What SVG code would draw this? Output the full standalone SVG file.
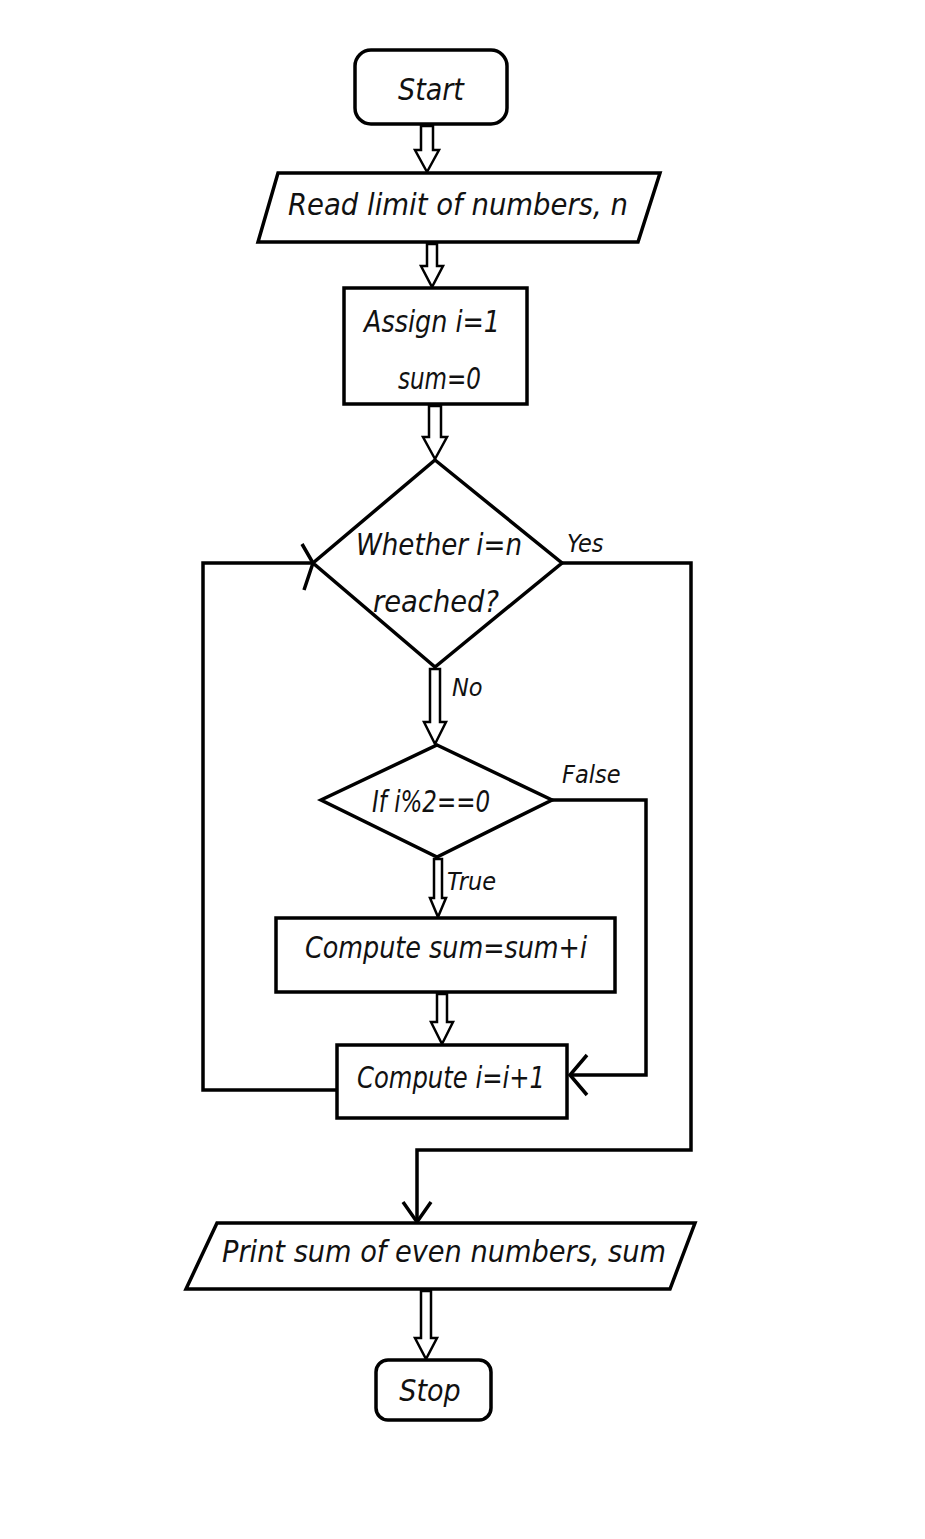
<svg xmlns="http://www.w3.org/2000/svg" width="925" height="1539" viewBox="0 0 925 1539">
<style>
.s{fill:#fff;stroke:#000;stroke-width:3.5}
.c{fill:none;stroke:#000;stroke-width:3.5;stroke-linejoin:miter}
.h{fill:#fff;stroke:#000;stroke-width:2.5;stroke-linejoin:miter}
.t{font-family:"DejaVu Sans","Liberation Sans",sans-serif;font-stretch:condensed;font-style:italic;font-size:30px;fill:#111}
.l{font-family:"DejaVu Sans","Liberation Sans",sans-serif;font-stretch:condensed;font-style:italic;font-size:25px;fill:#111}
</style>
<rect width="925" height="1539" fill="#fff"/>
<g id="connectors">
<path class="h" d="M421,126 V150 H415 L427,172 L439,150 H433 V126 Z"/>
<path class="h" d="M427,244 V266 H421 L432,287 L443,266 H437 V244 Z"/>
<path class="h" d="M429,406 V437 H423 L435,459 L447,437 H441 V406 Z"/>
<path class="h" d="M430,669 V722 H424 L435,744 L446,722 H440 V669 Z"/>
<path class="h" d="M434,859 V898 H430 L438,917 L446,898 H442 V859 Z"/>
<path class="h" d="M437,994 V1022 H431 L442,1044 L453,1022 H447 V994 Z"/>
<path class="h" d="M421,1291 V1338 H415 L426,1359 L437,1338 H431 V1291 Z"/>
<path class="c" d="M337,1090 H203 V563 H313"/>
<path class="c" d="M302,544 L313,563 L304,590"/>
<path class="c" d="M562,563 H691 V1150 H417 V1222"/>
<path class="c" d="M403,1202 L417,1222 L431,1202"/>
<path class="c" d="M552,800 H646 V1075 H570"/>
<path class="c" d="M587,1055 L570,1075 L587,1095"/>
<text class="l" x="567" y="552">Yes</text>
<text class="l" x="452" y="696">No</text>
<text class="l" x="562" y="783">False</text>
<text class="l" x="447" y="890">True</text>
</g>
<g id="start">
<rect class="s" x="355" y="50" width="152" height="74" rx="16"/>
<text class="t" x="431" y="100" text-anchor="middle">Start</text>
</g>
<g id="read">
<path class="s" d="M278,173 H660 L638,242 H258 Z"/>
<text class="t" x="288" y="215" textLength="340" lengthAdjust="spacingAndGlyphs">Read limit of numbers, n</text>
</g>
<g id="assign">
<rect class="s" x="344" y="288" width="183" height="116"/>
<text class="t" x="364" y="332" textLength="136" lengthAdjust="spacingAndGlyphs">Assign i=1</text>
<text class="t" x="398" y="389" textLength="83" lengthAdjust="spacingAndGlyphs">sum=0</text>
</g>
<g id="whether">
<path class="s" d="M435,460 L562,563 L435,667 L313,563 Z"/>
<text class="t" x="356" y="555" textLength="166" lengthAdjust="spacingAndGlyphs">Whether i=n</text>
<text class="t" x="373" y="612" textLength="126" lengthAdjust="spacingAndGlyphs">reached?</text>
</g>
<g id="ifeven">
<path class="s" d="M437,745 L552,800 L437,857 L321,800 Z"/>
<text class="t" x="372" y="812" textLength="118" lengthAdjust="spacingAndGlyphs">If i%2==0</text>
</g>
<g id="computesum">
<rect class="s" x="276" y="918" width="339" height="74"/>
<text class="t" x="305" y="958" textLength="282" lengthAdjust="spacingAndGlyphs">Compute sum=sum+i</text>
</g>
<g id="computei">
<rect class="s" x="337" y="1045" width="230" height="73"/>
<text class="t" x="357" y="1088" textLength="188" lengthAdjust="spacingAndGlyphs">Compute i=i+1</text>
</g>
<g id="print">
<path class="s" d="M217,1223 H695 L670,1289 H186 Z"/>
<text class="t" x="222" y="1262" textLength="444" lengthAdjust="spacingAndGlyphs">Print sum of even numbers, sum</text>
</g>
<g id="stop">
<rect class="s" x="376" y="1360" width="115" height="60" rx="12"/>
<text class="t" x="430" y="1401" text-anchor="middle">Stop</text>
</g>
</svg>
